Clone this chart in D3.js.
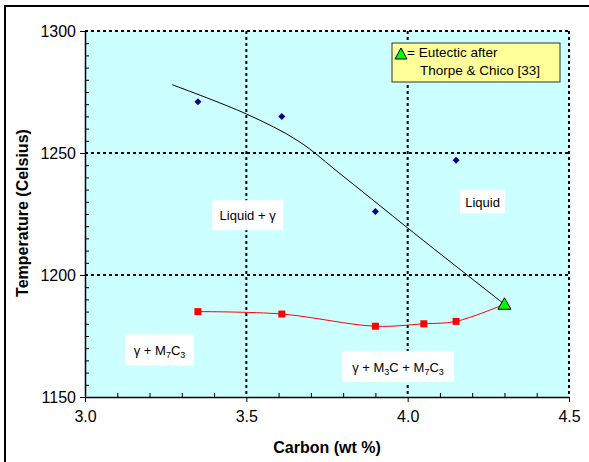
<!DOCTYPE html>
<html>
<head>
<meta charset="utf-8">
<script src="https://cdn.jsdelivr.net/npm/d3@7"></script>
<style>
  body { margin: 0; background: #fff; }
  text { font-family: "Liberation Sans", Arial, sans-serif; }
</style>
</head>
<body>
<div id="chart"></div>
<script>
// liquidus points (blue diamonds)
const liquidusC = [3.35, 3.61, 3.90, 4.15];
const liquidusT = [1271, 1265, 1226, 1247];

// trend line through liquidus
const trendC = [3.27, 3.50, 3.66, 3.80, 4.05, 4.30];
const trendT = [1278, 1266, 1255, 1240.5, 1214, 1188];

// eutectic points (red squares)
const eutC = [3.35, 3.61, 3.90, 4.05, 4.15];
const eutT = [1185, 1184, 1179, 1180, 1181];

// Thorpe & Chico eutectic
const refC = [4.30];
const refT = [1188];

const xTicks = [3.0, 3.5, 4.0, 4.5];
const yTicks = [1150, 1200, 1250, 1300];

const width = 589;
const height = 462;
const margin = { top: 31, right: 20, bottom: 65, left: 85 };
const w = 484, h = 366;

const x = d3.scaleLinear().domain([3.0, 4.5]).range([0, w]);
const y = d3.scaleLinear().domain([1150, 1300]).range([h, 0]);

const svg = d3.select("#chart").append("svg")
    .attr("width", width)
    .attr("height", height);

// outer frame
svg.append("rect")
    .attr("x", 5).attr("y", 6)
    .attr("width", 700).attr("height", 600)
    .attr("fill", "none")
    .attr("stroke", "#000")
    .attr("stroke-width", 2);

const g = svg.append("g")
    .attr("transform", "translate(" + margin.left + "," + margin.top + ")");

g.append("rect")
    .attr("width", w).attr("height", h)
    .attr("fill", "#ccffff");

// dotted grid
g.selectAll(".hgrid")
    .data(yTicks.slice(1))
    .enter().append("line")
    .attr("x1", 0).attr("x2", w)
    .attr("y1", d => y(d)).attr("y2", d => y(d))
    .attr("stroke", "#000")
    .attr("stroke-width", 2)
    .attr("stroke-dasharray", "3,3");

g.selectAll(".vgrid")
    .data(xTicks.slice(1))
    .enter().append("line")
    .attr("y1", 0).attr("y2", h)
    .attr("x1", d => x(d)).attr("x2", d => x(d))
    .attr("stroke", "#000")
    .attr("stroke-width", 2)
    .attr("stroke-dasharray", "3,3");

// minor ticks (inside)
const yMinor = d3.range(1155, 1300, 5).filter(d => d % 50 !== 0);
g.append("g")
    .call(d3.axisRight(y).tickValues(yMinor).tickSize(4).tickFormat(""))
    .call(s => s.select(".domain").remove());

const xMinor = d3.range(3.1, 4.45, 0.1).filter(d => Math.abs(d * 2 - Math.round(d * 2)) > 0.01);
g.append("g")
    .attr("transform", "translate(0," + h + ")")
    .call(d3.axisTop(x).tickValues(xMinor).tickSize(4).tickFormat(""))
    .call(s => s.select(".domain").remove());

// major axes
const yAxis = g.append("g")
    .call(d3.axisLeft(y).tickValues(yTicks).tickSize(5).tickSizeOuter(0).tickPadding(4).tickFormat(d3.format("d")));
yAxis.selectAll("text").style("font-size", "16px").attr("fill", "#000");
yAxis.select(".domain").attr("stroke-width", 1.5);

const xAxis = g.append("g")
    .attr("transform", "translate(0," + h + ")")
    .call(d3.axisBottom(x).tickValues(xTicks).tickSize(5).tickSizeOuter(0).tickPadding(9).tickFormat(d3.format(".1f")));
xAxis.selectAll("text").style("font-size", "16px").attr("fill", "#000");
xAxis.select(".domain").attr("stroke-width", 1.5);

// axis titles
svg.append("text")
    .attr("transform", "translate(28,213) rotate(-90)")
    .attr("text-anchor", "middle")
    .style("font-size", "16px")
    .style("font-weight", "bold")
    .text("Temperature (Celsius)");

svg.append("text")
    .attr("x", 327).attr("y", 453)
    .attr("text-anchor", "middle")
    .style("font-size", "16px")
    .style("font-weight", "bold")
    .text("Carbon (wt %)");

// region labels
function regionLabel(cx, cy, bw, bh, parts) {
    const lg = g.append("g").attr("transform", "translate(" + cx + "," + cy + ")");
    lg.append("rect")
        .attr("x", -bw / 2).attr("y", -bh / 2)
        .attr("width", bw).attr("height", bh)
        .attr("fill", "#fff");
    const t = lg.append("text")
        .attr("text-anchor", "middle")
        .attr("y", 5)
        .style("font-size", "13px");
    let shifted = false;
    parts.forEach(function(p) {
        const ts = t.append("tspan").text(p.t);
        if (p.sub) {
            ts.attr("dy", 3).style("font-size", "9px");
            shifted = true;
        } else if (shifted) {
            ts.attr("dy", -3);
            shifted = false;
        }
    });
}

regionLabel(x(3.504), y(1224.5), 71, 30, [{ t: "Liquid + \u03b3" }]);
regionLabel(x(4.232), y(1230), 45, 23, [{ t: "Liquid" }]);
regionLabel(x(3.231), y(1169.3), 69, 31, [{ t: "\u03b3 + M" }, { t: "7", sub: true }, { t: "C" }, { t: "3", sub: true }]);
regionLabel(x(3.97), y(1162.5), 112, 31, [{ t: "\u03b3 + M" }, { t: "3", sub: true }, { t: "C + M" }, { t: "7", sub: true }, { t: "C" }, { t: "3", sub: true }]);

// trend line
const trend = trendC.map((c, i) => [c, trendT[i]]);
g.append("path")
    .datum(trend)
    .attr("fill", "none")
    .attr("stroke", "#000")
    .attr("stroke-width", 1)
    .attr("d", d3.line().x(d => x(d[0])).y(d => y(d[1])).curve(d3.curveCatmullRom));

// eutectic curve, ends at reference point
const eut = eutC.map((c, i) => [c, eutT[i]]).concat([[refC[0], refT[0]]]);
g.append("path")
    .datum(eut)
    .attr("fill", "none")
    .attr("stroke", "#ff0000")
    .attr("stroke-width", 1)
    .attr("d", d3.line().x(d => x(d[0])).y(d => y(d[1])).curve(d3.curveCatmullRom));

// diamonds
g.selectAll(".diamond")
    .data(liquidusC.map((c, i) => [c, liquidusT[i]]))
    .enter().append("path")
    .attr("transform", d => "translate(" + x(d[0]) + "," + y(d[1]) + ")")
    .attr("d", "M0,-3.5L3.5,0L0,3.5L-3.5,0Z")
    .attr("fill", "#000080");

// squares
g.selectAll(".square")
    .data(eutC.map((c, i) => [c, eutT[i]]))
    .enter().append("rect")
    .attr("x", d => x(d[0]) - 3.5)
    .attr("y", d => y(d[1]) - 3.5)
    .attr("width", 7).attr("height", 7)
    .attr("fill", "#ff0000");

// triangle
g.selectAll(".tri")
    .data(refC.map((c, i) => [c, refT[i]]))
    .enter().append("path")
    .attr("transform", d => "translate(" + x(d[0]) + "," + y(d[1]) + ")")
    .attr("d", "M0,-6.5L6.5,5L-6.5,5Z")
    .attr("fill", "#00ff00")
    .attr("stroke", "#000")
    .attr("stroke-width", 1);

// legend box
const leg = svg.append("g");
leg.append("rect")
    .attr("x", 392).attr("y", 43)
    .attr("width", 168).attr("height", 39)
    .attr("fill", "#ffff99")
    .attr("stroke", "#333")
    .attr("stroke-width", 1);
leg.append("path")
    .attr("transform", "translate(401,54)")
    .attr("d", "M0,-6L6,5L-6,5Z")
    .attr("fill", "#00ff00")
    .attr("stroke", "#000")
    .attr("stroke-width", 1);
leg.append("text")
    .attr("x", 407).attr("y", 57)
    .style("font-size", "13.5px")
    .text("= Eutectic after");
leg.append("text")
    .attr("x", 420).attr("y", 75)
    .style("font-size", "13.5px")
    .text("Thorpe & Chico [33]");
</script>
</body>
</html>
